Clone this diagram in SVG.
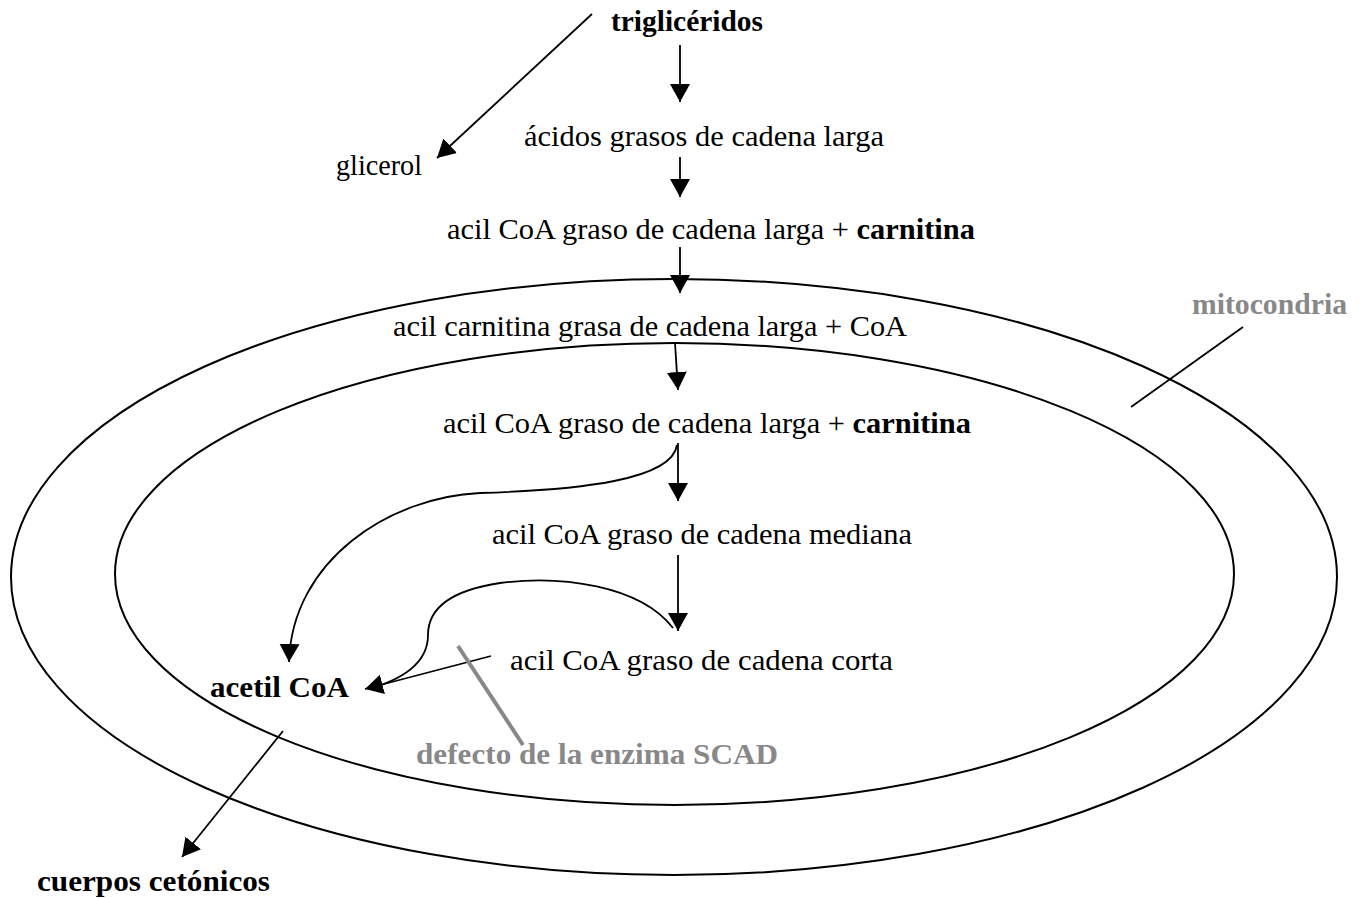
<svg xmlns="http://www.w3.org/2000/svg" width="1363" height="898" viewBox="0 0 1363 898">
<style>
text{font-family:"Liberation Serif","Times New Roman",serif;font-size:30px;fill:#000}
.b{font-weight:bold}
.g{fill:#888888;font-weight:bold}
.ln{fill:none;stroke:#000;stroke-width:1.8}
.memb{fill:none;stroke:#000;stroke-width:2}
</style>
<defs>
<marker id="ah" markerUnits="userSpaceOnUse" markerWidth="20" markerHeight="22" viewBox="0 -11 20 22" refX="18" refY="0" orient="auto">
<path d="M0,-10 L18,0 L0,10 z" fill="#000"/>
</marker>
</defs>
<rect width="1363" height="898" fill="#fff"/>
<g id="mitocondria">
<ellipse class="memb" cx="674" cy="577" rx="663" ry="298"/>
<ellipse class="memb" cx="674.5" cy="574" rx="559.5" ry="231"/>
<text class="g" x="1192" y="314" textLength="155" lengthAdjust="spacingAndGlyphs">mitocondria</text>
</g>
<g id="connectors">
<line class="ln" x1="680" y1="45" x2="680" y2="102" marker-end="url(#ah)"/>
<line class="ln" x1="592" y1="14" x2="437" y2="158" marker-end="url(#ah)"/>
<line class="ln" x1="680" y1="157" x2="680" y2="197" marker-end="url(#ah)"/>
<line class="ln" x1="680" y1="247" x2="680" y2="293" marker-end="url(#ah)"/>
<line class="ln" x1="675" y1="343" x2="678" y2="390" marker-end="url(#ah)"/>
<line class="ln" x1="678" y1="443" x2="678" y2="501" marker-end="url(#ah)"/>
<line class="ln" x1="678" y1="555" x2="678" y2="631" marker-end="url(#ah)"/>
<path class="ln" d="M677,445 C672,480 580,490 480,493 C390,497 292,560 289,662" marker-end="url(#ah)"/>
<path class="ln" d="M673,628 C640,585 560,575 500,583 C440,592 428,615 428,635 C428,662 405,678 372,688"/>
<line class="ln" x1="491" y1="656" x2="365" y2="689" marker-end="url(#ah)"/>
<line class="ln" x1="283" y1="731" x2="182" y2="857" marker-end="url(#ah)"/>
<line class="ln" x1="1243" y1="327" x2="1131" y2="407"/>
<line x1="458" y1="646" x2="523" y2="745" stroke="#888888" stroke-width="4"/>
</g>
<g id="n-trigliceridos"><text class="b" x="611" y="31" textLength="152" lengthAdjust="spacingAndGlyphs">triglicéridos</text></g>
<g id="n-glicerol"><text x="336" y="175" textLength="86" lengthAdjust="spacingAndGlyphs">glicerol</text></g>
<g id="n-acidos"><text x="524" y="146" textLength="360" lengthAdjust="spacingAndGlyphs">ácidos grasos de cadena larga</text></g>
<g id="n-acilcoa1"><text x="447" y="239" textLength="528" lengthAdjust="spacingAndGlyphs">acil CoA graso de cadena larga + <tspan class="b">carnitina</tspan></text></g>
<g id="n-acilcarnitina"><text x="393" y="336" textLength="514" lengthAdjust="spacingAndGlyphs">acil carnitina grasa de cadena larga + CoA</text></g>
<g id="n-acilcoa2"><text x="443" y="433" textLength="528" lengthAdjust="spacingAndGlyphs">acil CoA graso de cadena larga + <tspan class="b">carnitina</tspan></text></g>
<g id="n-mediana"><text x="492" y="544" textLength="420" lengthAdjust="spacingAndGlyphs">acil CoA graso de cadena mediana</text></g>
<g id="n-corta"><text x="510" y="670" textLength="383" lengthAdjust="spacingAndGlyphs">acil CoA graso de cadena corta</text></g>
<g id="n-acetilcoa"><text class="b" x="210" y="697" textLength="139" lengthAdjust="spacingAndGlyphs">acetil CoA</text></g>
<g id="n-scad"><text class="g" x="416" y="764" textLength="362" lengthAdjust="spacingAndGlyphs">defecto de la enzima SCAD</text></g>
<g id="n-cuerpos"><text class="b" x="37" y="891" textLength="233" lengthAdjust="spacingAndGlyphs">cuerpos cetónicos</text></g>
</svg>
